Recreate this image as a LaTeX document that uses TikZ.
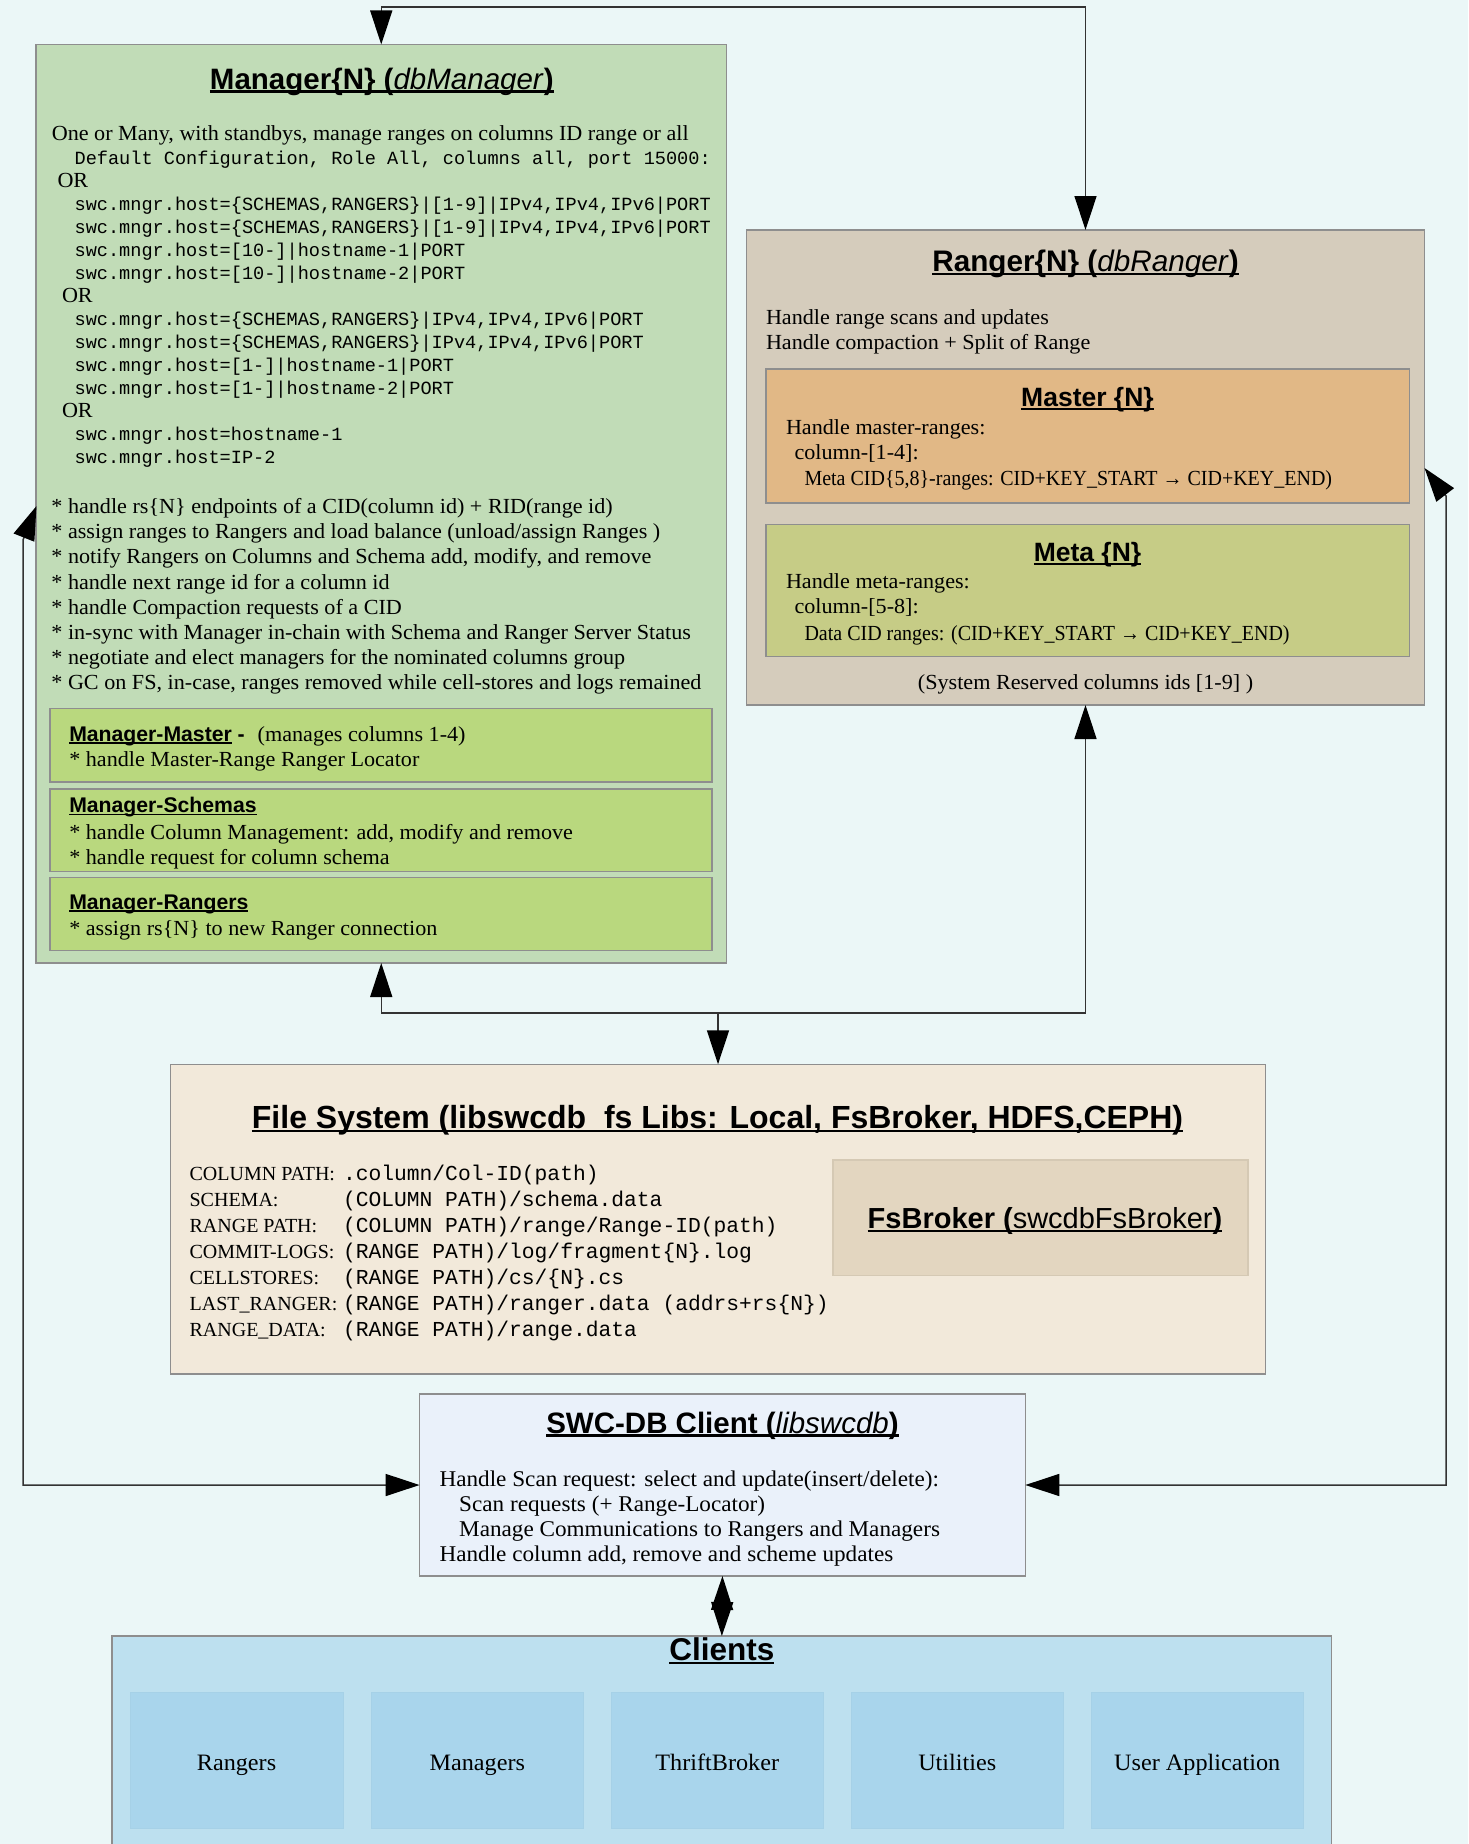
\documentclass[tikz,border=0pt]{standalone}
\usepackage{fontspec}
\setmainfont{Liberation Serif}
\setsansfont{Liberation Sans}
\setmonofont{Liberation Mono}
\newfontfamily\bodyf[FakeStretch=1.03]{Liberation Serif}
\newfontfamily\capf[FakeStretch=0.93]{Liberation Serif}
\usetikzlibrary{fit,arrows.meta}
\definecolor{bgc}{HTML}{EBF7F7}
\definecolor{bordc}{HTML}{8E8E8E}
\definecolor{mgrc}{HTML}{C1DCB7}
\definecolor{mgrsub}{HTML}{B9D87E}
\definecolor{rngc}{HTML}{D5CCBC}
\definecolor{masterc}{HTML}{E1B886}
\definecolor{metac}{HTML}{C6CC86}
\definecolor{fsc}{HTML}{F2E9DA}
\definecolor{fsbc}{HTML}{E3D6C0}
\definecolor{clic}{HTML}{EAF1FA}
\definecolor{clientsc}{HTML}{BDE0EF}
\definecolor{innerc}{HTML}{A9D5EC}
\newcommand\ulx[1]{\setbox0\hbox{#1}\rlap{\rule[-0.12em]{\wd0}{0.07em}}\box0}
\tikzset{
  box/.style={draw=bordc, line width=1.3pt, inner sep=0pt, outer sep=0pt},
  inbox/.style={draw=innerc!90!black!20!innerc, line width=0.5pt, fill=innerc, inner sep=0pt, outer sep=0pt},
  tx/.style={anchor=base west, inner sep=0pt, outer sep=0pt},
  ct/.style={anchor=base, inner sep=0pt, outer sep=0pt},
  body/.style={font=\bodyf\fontsize{21.5}{24}\selectfont},
  capbody/.style={font=\capf\fontsize{21.5}{24}\selectfont},
  cbody/.style={font=\bodyf\fontsize{22.5}{26}\selectfont},
  lab/.style={font=\rmfamily\fontsize{20}{22}\selectfont},
  mmono/.style={font=\ttfamily\fontsize{18.6}{22}\selectfont},
  fmono/.style={font=\ttfamily\fontsize{21.3}{24}\selectfont},
  subttl/.style={font=\sffamily\bfseries\fontsize{21.2}{24}\selectfont},
  conn/.style={draw=black!80, line width=1.5pt},
  >={Triangle[length=34pt,width=22pt,color=black]}
}
\begin{document}
\begin{tikzpicture}[x=1pt,y=-1pt]
\fill[bgc] (0,0) rectangle (1468,1844);
\useasboundingbox (0,0) rectangle (1468,1844);

% ---------------- Manager ----------------
\node[box, fill=mgrc, fit={(36,44.5) (726.5,963)}] (mgr) {};
\node[ct, font=\sffamily\fontsize{29.5}{34}\selectfont] (mgrT) at (381.8,89)
  {\ulx{\textbf{Manager\{N\} (}\textit{dbManager}\textbf{)}}};
\node[tx, body] (m0) at (51.8,140.5) {One or Many, with standbys, manage ranges on columns ID range or all};
\node[tx, mmono] (m1) at (74.6,164) {Default Configuration, Role All, columns all, port 15000:};
\node[tx, body] (m2) at (57.5,187) {OR};
\node[tx, mmono] (m3) at (74.6,210) {swc.mngr.host=\{SCHEMAS,RANGERS\}|[1-9]|IPv4,IPv4,IPv6|PORT};
\node[tx, mmono] (m4) at (74.6,233) {swc.mngr.host=\{SCHEMAS,RANGERS\}|[1-9]|IPv4,IPv4,IPv6|PORT};
\node[tx, mmono] (m5) at (74.6,256) {swc.mngr.host=[10-]|hostname-1|PORT};
\node[tx, mmono] (m6) at (74.6,279) {swc.mngr.host=[10-]|hostname-2|PORT};
\node[tx, body] (m7) at (62,302) {OR};
\node[tx, mmono] (m8) at (74.6,325) {swc.mngr.host=\{SCHEMAS,RANGERS\}|IPv4,IPv4,IPv6|PORT};
\node[tx, mmono] (m9) at (74.6,348) {swc.mngr.host=\{SCHEMAS,RANGERS\}|IPv4,IPv4,IPv6|PORT};
\node[tx, mmono] (m10) at (74.6,371) {swc.mngr.host=[1-]|hostname-1|PORT};
\node[tx, mmono] (m11) at (74.6,394) {swc.mngr.host=[1-]|hostname-2|PORT};
\node[tx, body] (m12) at (62,417) {OR};
\node[tx, mmono] (m13) at (74.6,440) {swc.mngr.host=hostname-1};
\node[tx, mmono] (m14) at (74.6,463) {swc.mngr.host=IP-2};

\foreach \t [count=\i from 0] in {
  {* handle rs\{N\} endpoints of a CID(column id) + RID(range id)},
  {* assign ranges to Rangers and load balance (unload/assign Ranges )},
  {* notify Rangers on Columns and Schema add, modify, and remove},
  {* handle next range id for a column id},
  {* handle Compaction requests of a CID},
  {* in-sync with Manager in-chain with Schema and Ranger Server Status},
  {* negotiate and elect managers for the nominated columns group},
  {* GC on FS, in-case, ranges removed while cell-stores and logs remained}}
  \node[tx, body] (mb\i) at (51.4,513.5+25.2*\i) {\t};

\node[box, fill=mgrsub, fit={(50,708.5) (712,782)}] (mm) {};
\node[tx, subttl] (mmT) at (69.3,741) {\ulx{Manager-Master}\ -};
\node[tx, body] (mmT2) at (257.7,741) {(manages columns 1-4)};
\node[tx, body] (mm1) at (69.3,766) {* handle Master-Range Ranger Locator};

\node[box, fill=mgrsub, fit={(50,789) (712,871.5)}] (ms) {};
\node[tx, subttl] (msT) at (69.3,812.7) {\ulx{Manager-Schemas}};
\node[tx, body] (ms1) at (69.3,839) {* handle Column Management: add, modify and remove};
\node[tx, body] (ms2) at (69.3,864.3) {* handle request for column schema};

\node[box, fill=mgrsub, fit={(50,877.5) (712,950.7)}] (mr) {};
\node[tx, subttl] (mrT) at (69.3,909) {\ulx{Manager-Rangers}};
\node[tx, body] (mr1) at (69.3,935) {* assign rs\{N\} to new Ranger connection};

% ---------------- Ranger ----------------
\node[box, fill=rngc, fit={(746.5,230) (1424.5,705)}] (rng) {};
\node[ct, font=\sffamily\fontsize{29.7}{34}\selectfont] (rngT) at (1085.5,271.5)
  {\ulx{\textbf{Ranger\{N\} (}\textit{dbRanger}\textbf{)}}};
\node[tx, body] (r1) at (766,324) {Handle range scans and updates};
\node[tx, body] (r2) at (766,349) {Handle compaction + Split of Range};

\node[box, fill=masterc, fit={(766,369) (1409.5,503)}] (mst) {};
\node[ct, font=\sffamily\bfseries\fontsize{26.5}{30}\selectfont] (mstT) at (1087.5,406.5) {\ulx{Master \{N\}}};
\node[tx, body] (mst1) at (786,434) {Handle master-ranges:};
\node[tx, body] (mst2) at (794.5,459.5) {column-[1-4]:};
\node[tx, capbody] (mst3) at (804.5,485) {Meta CID\{5,8\}-ranges: CID+KEY\_START → CID+KEY\_END)};

\node[box, fill=metac, fit={(766,524.3) (1409.5,656.7)}] (meta) {};
\node[ct, font=\sffamily\bfseries\fontsize{26.5}{30}\selectfont] (metaT) at (1087.5,561.5) {\ulx{Meta \{N\}}};
\node[tx, body] (meta1) at (786,588.3) {Handle meta-ranges:};
\node[tx, body] (meta2) at (794.5,613.3) {column-[5-8]:};
\node[tx, capbody] (meta3) at (804.5,640) {Data CID ranges: (CID+KEY\_START → CID+KEY\_END)};

\node[ct, body] (rsys) at (1085.5,689) {(System Reserved columns ids [1-9] )};

% ---------------- File System ----------------
\node[box, fill=fsc, fit={(170.5,1064.3) (1265.5,1374)}] (fs) {};
\node[ct, font=\sffamily\bfseries\fontsize{32}{36}\selectfont] (fsT) at (717.5,1128.3)
  {\ulx{File System (libswcdb\_fs Libs: Local, FsBroker, HDFS,CEPH)}};
\foreach \l/\v [count=\i from 0] in {
  {COLUMN PATH:}/{.column/Col-ID(path)},
  {SCHEMA:}/{(COLUMN PATH)/schema.data},
  {RANGE PATH:}/{(COLUMN PATH)/range/Range-ID(path)},
  {COMMIT-LOGS:}/{(RANGE PATH)/log/fragment\{N\}.log},
  {CELLSTORES:}/{(RANGE PATH)/cs/\{N\}.cs},
  {LAST\_RANGER:}/{(RANGE PATH)/ranger.data (addrs+rs\{N\})},
  {RANGE\_DATA:}/{(RANGE PATH)/range.data}}
{
  \node[tx, lab] (fl\i) at (189.6,1180.7+25.9*\i) {\l};
  \node[tx, fmono] (fv\i) at (343,1180.7+25.9*\i) {\v};
}
\node[box, draw=fsbc!85!black!40!fsbc, fill=fsbc, fit={(833,1160) (1248,1275.7)}] (fsb) {};
\node[ct, font=\sffamily\fontsize{29}{34}\selectfont] (fsbT) at (1045,1228.3)
  {\ulx{\textbf{FsBroker (}swcdbFsBroker\textbf{)}}};

% ---------------- Client ----------------
\node[box, fill=clic, fit={(419.6,1394) (1025.3,1576)}] (cli) {};
\node[ct, font=\sffamily\fontsize{29.5}{34}\selectfont] (cliT) at (722.5,1433)
  {\ulx{\textbf{SWC-DB Client (}\textit{libswcdb}\textbf{)}}};
\node[tx, cbody] (c1) at (439.6,1486.7) {Handle Scan request: select and update(insert/delete):};
\node[tx, cbody] (c2) at (459.2,1511.7) {Scan requests (+ Range-Locator)};
\node[tx, cbody] (c3) at (459.2,1536.7) {Manage Communications to Rangers and Managers};
\node[tx, cbody] (c4) at (439.6,1561.7) {Handle column add, remove and scheme updates};

% ---------------- Clients ----------------
\node[box, fill=clientsc, fit={(112,1636) (1331.7,1860)}] (clients) {};
\node[ct, font=\sffamily\bfseries\fontsize{31.5}{36}\selectfont] (clientsT) at (721.9,1660) {\ulx{Clients}};
\foreach \x/\t [count=\i] in {130.3/Rangers, 371/Managers, 611/ThriftBroker, 851/Utilities, 1091/User Application}
{
  \node[inbox, minimum width=212.5pt, minimum height=136pt, anchor=north west] (cl\i) at (\x,1692.7) {};
  \node[ct, font=\bodyf\fontsize{23.5}{26}\selectfont] (cll\i) at ([yshift=-9.5pt]cl\i.center) {\t};
}

% ---------------- Connectors ----------------
\coordinate (topy) at (0,7);
\draw[conn, <->] (mgr.north) -- (mgr.north |- topy) -| (rng.north);

\coordinate (fsj) at (fs.north |- 0,1013);
\draw[conn, <-] (mgr.south) |- (fsj);
\draw[conn, <->] (rng.south) |- (fsj) -- (fs.north);

\coordinate (mgrL) at (36.5,506);
\coordinate (lbend) at (23,540);
\draw[conn, <->] (mgrL) -- (lbend) -- (lbend |- cli.west) -- (cli.west);

\coordinate (rngR) at (1424.5,468);
\coordinate (rbend) at (1446,496);
\draw[conn, <->] (rngR) -- (rbend) -- (rbend |- cli.east) -- (cli.east);

\draw[conn, <->] (cli.south) -- (clients.north);
\end{tikzpicture}
\end{document}
